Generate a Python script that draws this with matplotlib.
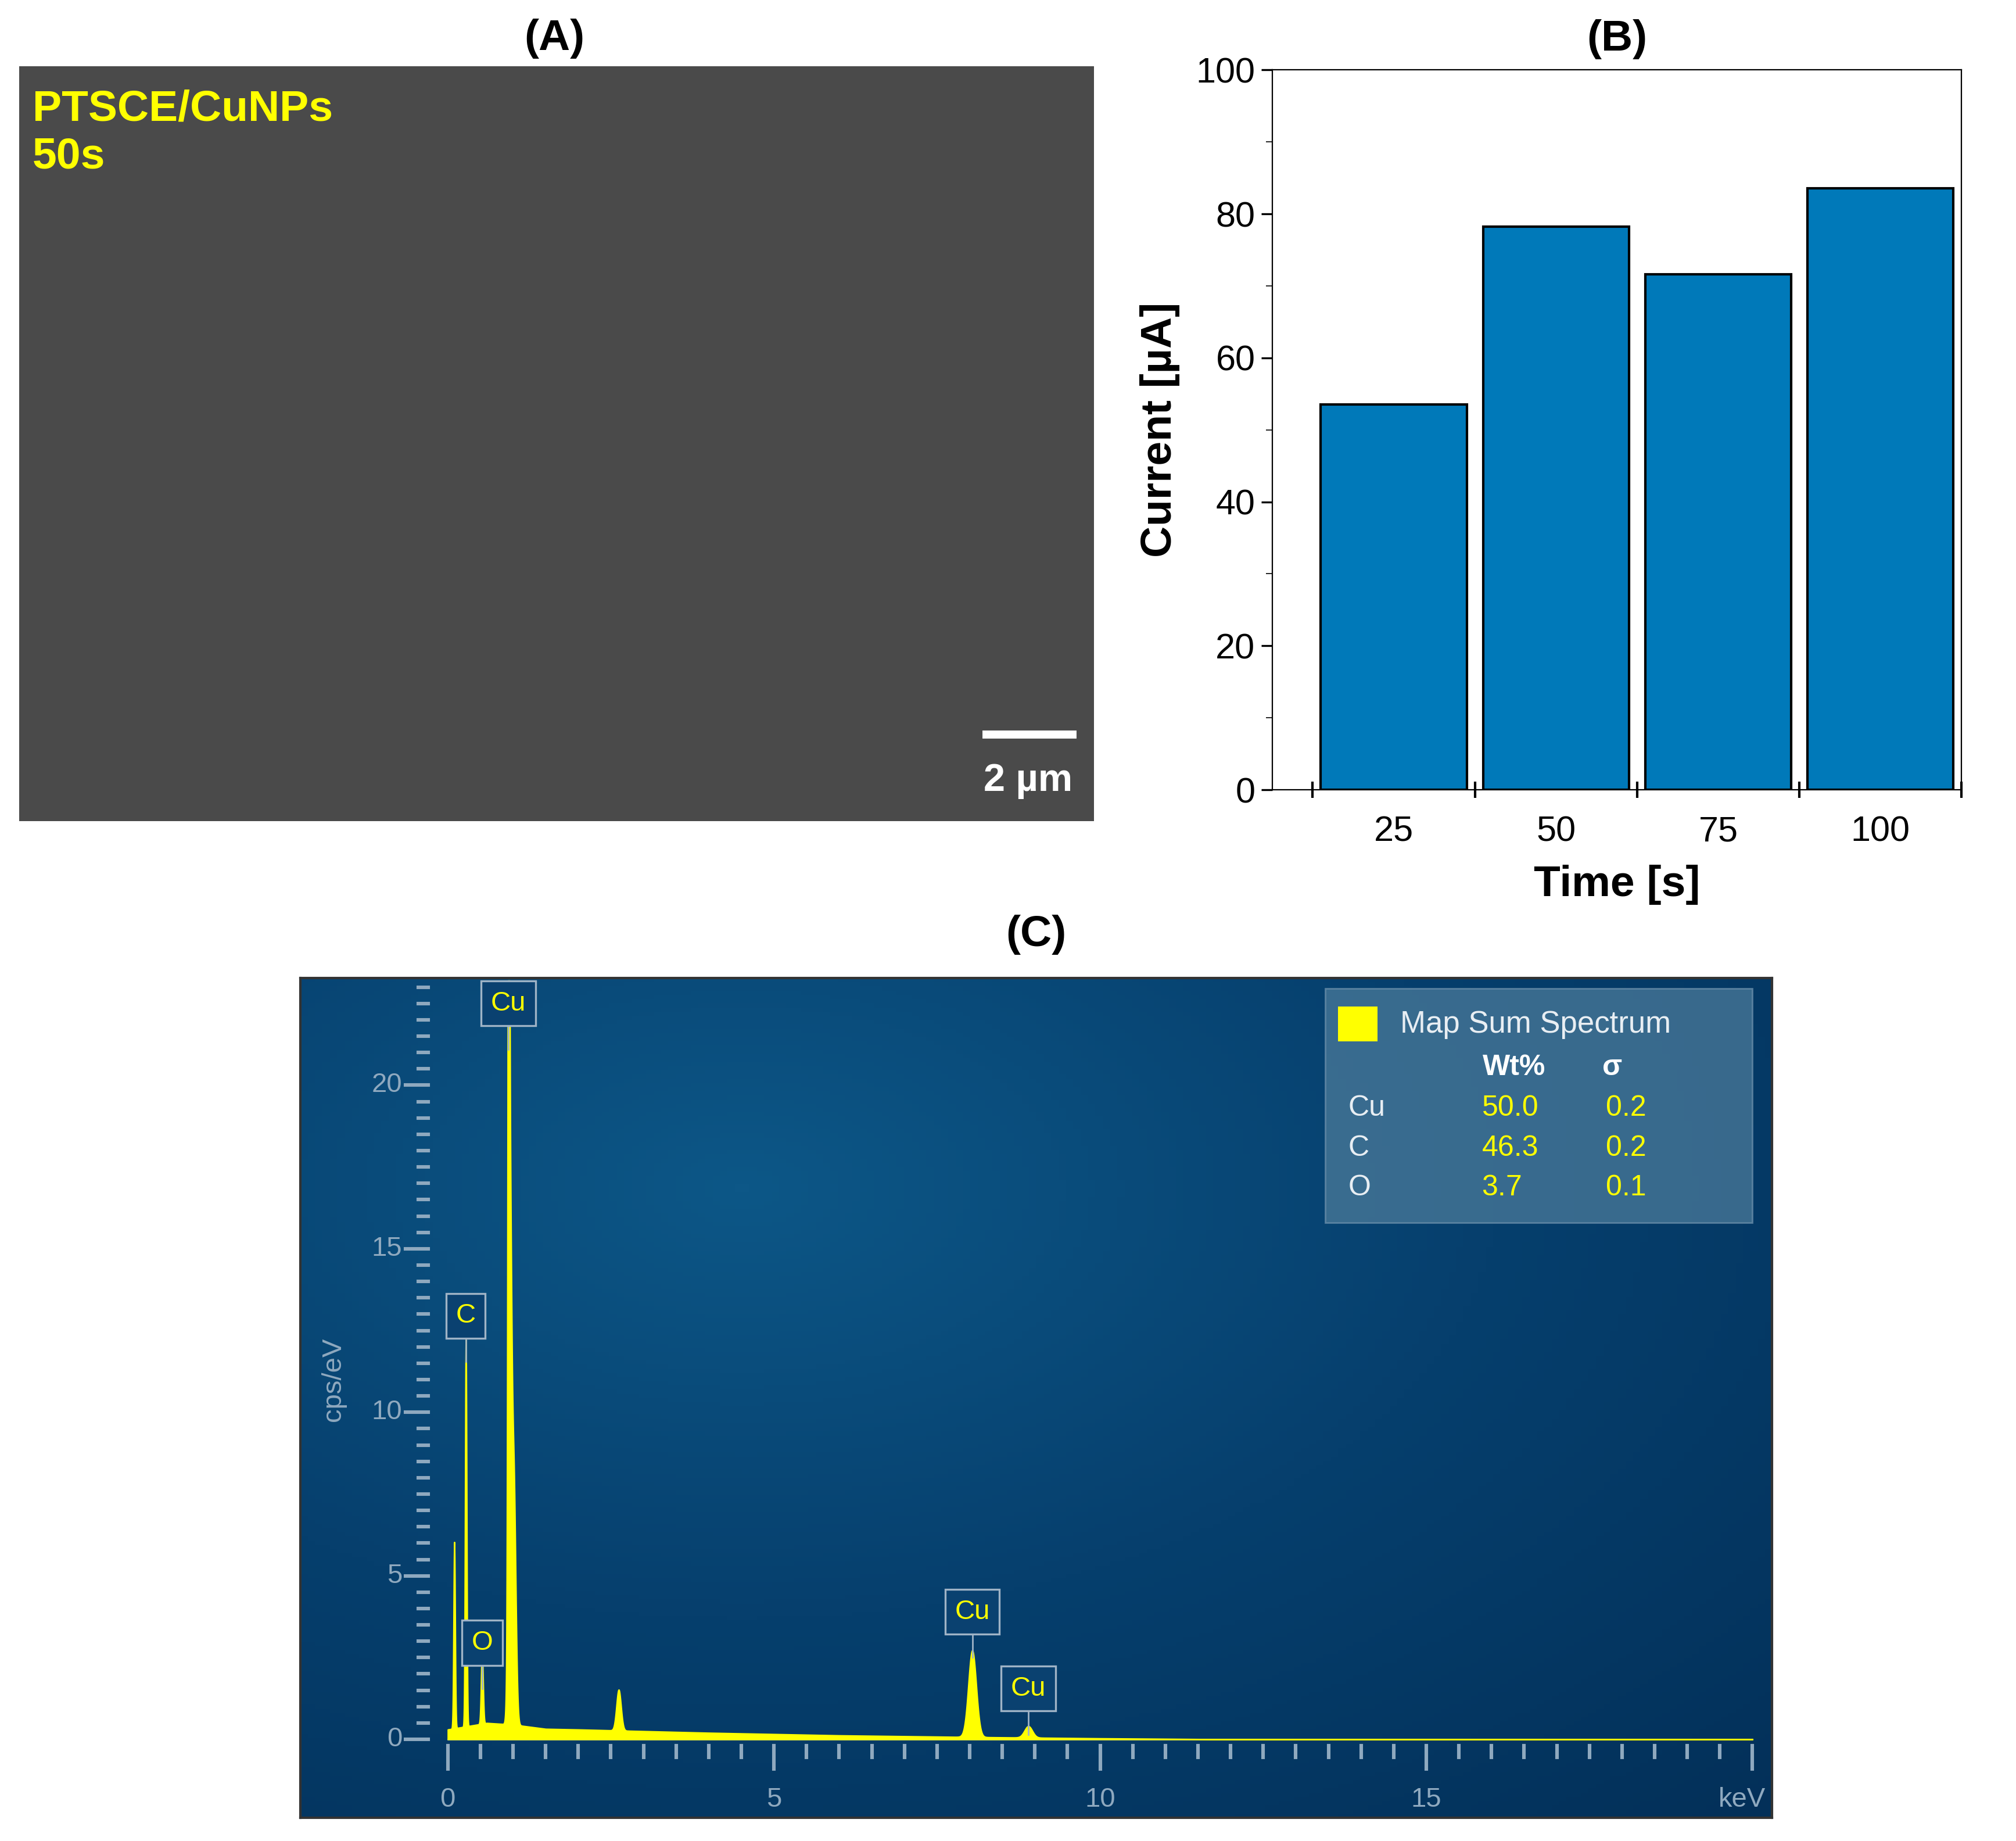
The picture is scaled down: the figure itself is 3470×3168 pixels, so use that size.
import numpy as np
import matplotlib.pyplot as plt
from matplotlib.patches import Rectangle

# Panel B data
times = ['25', '50', '75', '100']
currents = [53.5, 78.2, 71.6, 83.6]

# Panel C: EDS peaks (keV, height cps/eV, width keV)
peak_e = [0.10, 0.277, 0.525, 0.93, 0.95, 1.01, 2.62, 8.04, 8.90]
peak_h = [5.7, 12.0, 2.3, 23.5, 16.0, 7.5, 1.25, 2.65, 0.35]
peak_w = [0.012, 0.012, 0.015, 0.012, 0.025, 0.03, 0.035, 0.06, 0.06]
bg_e = [0.0, 0.6, 1.0, 1.5, 2.0, 3.0, 4.0, 6.0, 8.0, 10.0, 12.0, 20.0]
bg_v = [0.3, 0.5, 0.45, 0.32, 0.3, 0.25, 0.2, 0.12, 0.07, 0.03, 0.0, 0.0]

labels_c = [('Cu', 0.93, 22.5), ('C', 0.277, 12.95), ('O', 0.525, 2.95), ('Cu', 8.04, 3.9), ('Cu', 8.9, 1.55)]
table_rows = [('Cu', '50.0', '0.2'), ('C', '46.3', '0.2'), ('O', '3.7', '0.1')]

plt.rcParams['font.family'] = ['Liberation Sans', 'DejaVu Sans']
fig = plt.figure(figsize=(17.35, 15.84), dpi=200)

# ---- Panel A (SEM image placeholder)
axA = fig.add_axes([0.0096, 0.554, 0.533, 0.41])
axA.set_facecolor('#4a4a4a')
axA.set_xlim(0, 1); axA.set_ylim(0, 1)
axA.set_xticks([]); axA.set_yticks([])
for s in axA.spines.values():
    s.set_visible(False)
axA.text(0.012, 0.97, 'PTSCE/CuNPs\n50s', color='#ffff00', fontsize=27, fontweight='bold',
         va='top', ha='left', transform=axA.transAxes, linespacing=1.25)
axA.plot([0.9, 0.98], [0.115, 0.115], color='white', lw=5, transform=axA.transAxes)
axA.text(0.98, 0.04, '2 µm', color='white', fontsize=24, fontweight='bold', ha='right',
         transform=axA.transAxes)
fig.text(0.275, 0.99, '(A)', fontsize=27, fontweight='bold', ha='center', va='top')

# ---- Panel B
axB = fig.add_axes([0.631, 0.571, 0.342, 0.391])
x = np.arange(len(times))
axB.bar(x, currents, width=0.9, color='#0079b9', edgecolor='black', linewidth=1.5)
axB.set_xlim(-0.75, 3.5)
axB.set_ylim(0, 100)
axB.set_xticks(x)
axB.set_xticklabels(times)
axB.set_xticks(np.arange(-0.5, 4, 1), minor=True)
axB.tick_params(axis='x', which='major', length=0, pad=16, labelsize=22)
axB.tick_params(axis='x', which='minor', length=10, width=1.5, direction='inout')
axB.set_yticks(range(0, 101, 20))
axB.set_yticks(range(0, 101, 10), minor=True)
axB.tick_params(axis='y', which='major', length=7, width=1.2, labelsize=22)
axB.tick_params(axis='y', which='minor', length=4)
axB.set_xlabel('Time [s]', fontsize=27, fontweight='bold', labelpad=10)
axB.set_ylabel('Current [µA]', fontsize=27, fontweight='bold', labelpad=10)
axB.set_title('(B)', fontsize=27, fontweight='bold', pad=12)

# ---- Panel C
xl, xr, yb, yt = -2.26, 20.3, -2.4, 23.27
axC = fig.add_axes([0.149, 0.0126, 0.730, 0.456])
gx, gy = np.meshgrid(np.linspace(0, 1, 200), np.linspace(0, 1, 200))
grad = np.sqrt((gx - 0.3) ** 2 + (gy - 0.75) ** 2)
axC.imshow(grad, extent=[xl, xr, yb, yt], origin='lower', cmap=plt.cm.colors.LinearSegmentedColormap.from_list(
    'b', ['#0d5787', '#063f6d', '#033059']), aspect='auto', zorder=0)
axC.set_xlim(xl, xr); axC.set_ylim(yb, yt)
axC.set_xticks([]); axC.set_yticks([])
for s in axC.spines.values():
    s.set_color('#333333'); s.set_linewidth(1.5)
fig.text(0.514, 0.503, '(C)', fontsize=27, fontweight='bold', ha='center', va='top')

e = np.linspace(0, 20, 8000)
spec = np.interp(e, bg_e, bg_v)
for pe, ph, pw in zip(peak_e, peak_h, peak_w):
    spec = spec + ph * np.exp(-0.5 * ((e - pe) / pw) ** 2)
spec = np.minimum(spec, 23.2)
axC.fill_between(e, 0, spec, color='#ffff00', lw=0.8, zorder=3)

tc = '#8fa9bf'
axC.plot([0, 20], [0, 0], color=tc, lw=1, zorder=2)
for v in np.arange(0, 20.01, 0.5):
    axC.plot([v, v], [-0.2, -0.9 if v % 5 == 0 else -0.55], color=tc, lw=2.2, zorder=2)
for k in range(4):
    axC.text(k * 5, -1.45, str(k * 5), color=tc, fontsize=17, ha='center', va='top')
axC.text(20.2, -1.45, 'keV', color=tc, fontsize=17, ha='right', va='top')
for v in np.arange(0, 23.1, 0.5):
    big = v % 5 == 0
    axC.plot([-0.65 if big else -0.45, -0.3], [v, v], color=tc, lw=2.2, zorder=2)
    if big:
        axC.text(-0.7, v, str(int(v)), color=tc, fontsize=17, ha='right', va='center')
axC.text(-1.75, 11, 'cps/eV', color=tc, fontsize=17, rotation=90, ha='center', va='center')

for lab, pe, py in labels_c:
    axC.plot([pe, pe], [py - 1.4, py - 0.6], color='#9fb3c6', lw=1, zorder=4)
    axC.text(pe, py, lab, color='#ffff00', fontsize=17, ha='center', va='center', zorder=5,
             bbox=dict(boxstyle='square,pad=0.35', fc='#0a4170', ec='#9fb3c6', lw=1.2))

# legend/table box
axC.add_patch(Rectangle((13.45, 15.8), 6.55, 7.15, facecolor='#4a7a9a', alpha=0.75, edgecolor='#6b8fab', zorder=6))
axC.add_patch(Rectangle((13.65, 21.35), 0.6, 1.05, facecolor='#ffff00', zorder=7))
axC.text(14.6, 21.85, 'Map Sum Spectrum', color='#e8eef3', fontsize=19, va='center', zorder=7)
axC.text(16.35, 20.55, 'Wt%', color='white', fontsize=18, fontweight='bold', ha='center', va='center', zorder=7)
axC.text(17.85, 20.55, 'σ', color='white', fontsize=18, fontweight='bold', ha='center', va='center', zorder=7)
for i, (el, wt, sg) in enumerate(table_rows):
    yy = 19.3 - i * 1.22
    axC.text(13.8, yy, el, color='#e8eef3', fontsize=18, va='center', zorder=7)
    axC.text(15.85, yy, wt, color='#ffff00', fontsize=18, va='center', zorder=7)
    axC.text(17.75, yy, sg, color='#ffff00', fontsize=18, va='center', zorder=7)

fig.savefig('out.png', dpi=200)
